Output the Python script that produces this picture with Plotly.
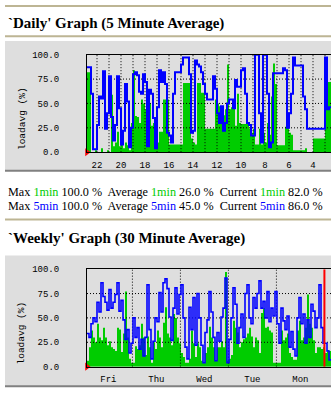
import plotly.graph_objects as go

# ---------------- data ----------------
# Daily graph, one value per 10 minutes, newest first (left -> right)
daily_1min = [82, 82, 0, 0, 2, 0, 0, 4, 0, 0, 2, 0, 59, 6, 10, 21, 6, 16, 4, 10,
              7, 2, 30, 84, 37, 36, 30, 54, 50, 44, 21, 50, 27, 30, 16, 10, 21, 21, 54, 54,
              54, 8, 8, 8, 8, 8, 8, 8, 71, 71, 71, 71, 14, 10, 8, 71, 71, 61, 61, 24,
              24, 24, 24, 24, 54, 50, 47, 40, 38, 44, 90, 44, 46, 46, 27, 60, 30, 29, 29, 29,
              30, 24, 20, 24, 8, 8, 24, 8, 20, 10, 30, 18, 57, 91, 70, 7, 7, 7, 7, 26,
              26, 20, 18, 2, 2, 2, 2, 2, 2, 4, 0, 0, 0, 14, 14, 14, 14, 14, 14, 94,
              72, 72]
daily_5min = [87, 87, 60, 3, 3, 28, 57, 55, 83, 24, 40, 78, 36, 12, 28, 78, 45, 8, 22, 70,
              52, 5, 25, 80, 82, 79, 62, 60, 80, 72, 6, 64, 60, 35, 4, 46, 84, 72, 82, 70,
              20, 17, 10, 60, 82, 82, 82, 90, 97, 97, 97, 80, 20, 22, 94, 90, 88, 82, 70, 60,
              54, 54, 54, 78, 65, 40, 30, 47, 22, 30, 50, 54, 54, 45, 74, 67, 67, 84, 86, 60,
              30, 28, 17, 17, 100, 100, 40, 10, 100, 100, 60, 5, 10, 81, 81, 81, 81, 81, 86, 84,
              25, 40, 60, 97, 89, 89, 89, 89, 57, 44, 24, 24, 24, 24, 24, 24, 24, 24, 24, 97,
              44, 46]

# Weekly graph, one value per hour, newest first (left -> right)
weekly_1min = [6, 20, 37, 30, 25, 44, 30, 27, 40, 30, 22, 26, 20, 18, 16, 40, 38, 15, 34, 77,
               30, 8, 4, 4, 21, 18, 22, 44, 30, 12, 31, 20, 4, 25, 18, 37, 30, 20, 45, 61,
               34, 30, 22, 54, 50, 30, 24, 14, 10, 4, 4, 8, 37, 24, 10, 24, 20, 6, 4, 14,
               20, 41, 30, 20, 6, 20, 20, 26, 20, 97, 6, 8, 12, 47, 40, 35, 20, 25, 28, 30,
               34, 40, 31, 20, 30, 27, 14, 55, 60, 40, 41, 37, 35, 4, 4, 4, 4, 37, 27, 30,
               34, 14, 10, 7, 7, 37, 47, 27, 30, 40, 74, 44, 40, 27, 14, 20, 20, 18, 20, 14,
               17, 16]
weekly_5min = [34, 30, 44, 50, 46, 66, 56, 86, 72, 66, 58, 79, 60, 66, 74, 86, 57, 68, 48, 28,
               38, 14, 24, 50, 30, 40, 18, 28, 11, 30, 84, 38, 8, 26, 50, 46, 76, 56, 86, 90,
               80, 51, 27, 60, 81, 54, 74, 84, 50, 20, 8, 61, 38, 71, 22, 75, 50, 22, 4, 35,
               48, 77, 56, 30, 6, 35, 26, 51, 60, 91, 4, 28, 50, 81, 64, 24, 40, 54, 30, 75,
               84, 50, 44, 71, 60, 75, 88, 60, 67, 50, 77, 46, 60, 52, 77, 44, 24, 60, 47, 38,
               52, 20, 36, 18, 11, 50, 71, 44, 54, 24, 48, 30, 64, 57, 40, 50, 84, 40, 24, 24,
               16, 7]

daily_label_hours = [22, 20, 18, 16, 14, 12, 10, 8, 6, 4]
daily_grid_hours = list(range(22, 2, -1))
weekly_day_labels = ["Fri", "Thu", "Wed", "Tue", "Mon"]
weekly_day_centers = [5.5, 4.5, 3.5, 2.5, 1.5]
weekly_day_bounds = [5, 4, 3, 2]
weekly_week_start = 1
y_tick_values = [0, 25, 50, 75, 100]
y_tick_text = ["0.0", "25.0", "50.0", "75.0", "100.0"]
grid_levels = [25, 50, 75]

stats_line_1 = [("Max", "1min", "100.0 %"), ("Average", "1min", "26.0 %"), ("Current", "1min", "82.0 %")]
stats_line_2 = [("Max", "5min", "100.0 %"), ("Average", "5min", "45.0 %"), ("Current", "5min", "86.0 %")]

DAILY_START = 22 + 50 / 60      # hour of day at the left edge
DAILY_STEP = 1 / 6              # 10 minutes
WEEKLY_START = 5.946            # days (Sun=0) at the left edge
WEEKLY_STEP = 1 / 24            # 1 hour

# ---------------- layout helpers ----------------
W, H = 331, 398
PLOT_L = 87
PLOT_W = W - PLOT_L


def fx(px):
    return px / W


def fy(py):
    return 1 - py / H


GREEN = "#00cc00"
BLUE = "#0000ff"
MONO = "Liberation Mono, DejaVu Sans Mono, monospace"
SERIF = "Liberation Serif, Times New Roman, serif"


def step_xy(values, start, step):
    xs = [start - i * step for i in range(len(values) + 1)]
    ys = list(values) + [values[-1]]
    return xs, ys


def grid_xy(vert, horiz, x0, x1):
    xs, ys = [], []
    for v in vert:
        xs += [v, v, None]
        ys += [0, 100, None]
    for h in horiz:
        xs += [x0, x1, None]
        ys += [h, h, None]
    return xs, ys


fig = go.Figure()

panels = [
    dict(xa="x", ya="y", one=daily_1min, five=daily_5min, start=DAILY_START, step=DAILY_STEP,
         per_px=1 / 12, vgrid=daily_grid_hours, bw=2),
    dict(xa="x2", ya="y2", one=weekly_1min, five=weekly_5min, start=WEEKLY_START, step=WEEKLY_STEP,
         per_px=1 / 48, vgrid=weekly_day_bounds, bw=1.6),
]

for p in panels:
    x_end = p["start"] - PLOT_W * p["per_px"]
    gx, gy = step_xy(p["one"], p["start"], p["step"])
    fig.add_trace(go.Scatter(x=gx, y=gy, mode="lines", line=dict(width=0, shape="hv", color=GREEN),
                             fill="tozeroy", fillcolor=GREEN, xaxis=p["xa"], yaxis=p["ya"],
                             hoverinfo="skip", showlegend=False))
    lx, ly = grid_xy(p["vgrid"], grid_levels, p["start"], x_end)
    fig.add_trace(go.Scatter(x=lx, y=ly, mode="lines", line=dict(width=1, color="black", dash="1px,2px"),
                             xaxis=p["xa"], yaxis=p["ya"], hoverinfo="skip", showlegend=False))
    bx, by = step_xy(p["five"], p["start"], p["step"])
    fig.add_trace(go.Scatter(x=bx, y=by, mode="lines", line=dict(width=p["bw"], shape="hv", color=BLUE),
                             xaxis=p["xa"], yaxis=p["ya"], hoverinfo="skip", showlegend=False))
    p["x_end"] = x_end

# red week-start line on weekly graph
fig.add_trace(go.Scatter(x=[weekly_week_start, weekly_week_start], y=[0, 100], mode="lines",
                         line=dict(width=2, color="#ff0000"), xaxis="x2", yaxis="y2",
                         hoverinfo="skip", showlegend=False))
# red arrows at origin
for p in panels:
    fig.add_trace(go.Scatter(x=[p["start"]], y=[0], mode="markers",
                             marker=dict(symbol="triangle-right", size=7, color="#ff0000"),
                             cliponaxis=False, xaxis=p["xa"], yaxis=p["ya"],
                             hoverinfo="skip", showlegend=False))

axis_common = dict(showgrid=False, zeroline=False, showline=True, linecolor="black", linewidth=1,
                   fixedrange=True, tickfont=dict(family=MONO, size=9, color="black"))

fig.update_layout(
    width=W, height=H, margin=dict(l=0, r=0, t=0, b=0),
    paper_bgcolor="white", plot_bgcolor="rgba(0,0,0,0)",
    xaxis=dict(domain=[fx(PLOT_L), 1], range=[DAILY_START, panels[0]["x_end"]], anchor="y",
               tickvals=daily_label_hours, ticktext=[str(h) for h in daily_label_hours],
               ticks="outside", ticklen=4, tickcolor="rgba(0,0,0,0)", mirror=True, **axis_common),
    yaxis=dict(domain=[fy(152), fy(52)], range=[0, 100], anchor="x",
               tickvals=y_tick_values, ticktext=y_tick_text,
               ticks="outside", ticklen=25, tickcolor="rgba(0,0,0,0)", **axis_common),
    xaxis2=dict(domain=[fx(PLOT_L), 1], range=[WEEKLY_START, panels[1]["x_end"]], anchor="y2",
                tickvals=weekly_day_centers, ticktext=weekly_day_labels,
                ticks="outside", ticklen=4, tickcolor="rgba(0,0,0,0)", mirror=True, **axis_common),
    yaxis2=dict(domain=[fy(372), fy(272)], range=[0, 100], anchor="x2",
                tickvals=y_tick_values, ticktext=y_tick_text,
                ticks="outside", ticklen=25, tickcolor="rgba(0,0,0,0)", **axis_common),
)

shapes = []
# gray image boxes
for top, bottom in [(38, 171), (258, 392)]:
    shapes.append(dict(type="rect", xref="paper", yref="paper", x0=fx(5), x1=1.01, y0=fy(bottom), y1=fy(top),
                       fillcolor="#dedede", line=dict(width=0), layer="below"))
    shapes.append(dict(type="line", xref="paper", yref="paper", x0=fx(5), x1=1, y0=fy(bottom), y1=fy(bottom),
                       line=dict(color="#808080", width=2), layer="below"))
# horizontal rules
for py in [2, 33, 221]:
    shapes.append(dict(type="line", xref="paper", yref="paper", x0=fx(5), x1=1, y0=fy(py), y1=fy(py),
                       line=dict(color="#bdb594", width=2), layer="below"))
fig.update_layout(shapes=shapes)


def stats_text(parts, color):
    segs = []
    for label, name, val in parts:
        segs.append(f"{label} <span style='color:{color}'>{name}</span> {val}")
    return "&nbsp; ".join(segs)


annotations = [
    dict(text="<b>`Daily' Graph (5 Minute Average)</b>", x=fx(6), y=fy(19.5), xanchor="left", yanchor="middle",
         font=dict(family=SERIF, size=15, color="black")),
    dict(text="<b>`Weekly' Graph (30 Minute Average)</b>", x=fx(6), y=fy(240.5), xanchor="left", yanchor="middle",
         font=dict(family=SERIF, size=15, color="black")),
    dict(text=stats_text(stats_line_1, GREEN), x=fx(6), y=fy(192.5), xanchor="left", yanchor="middle",
         font=dict(family=SERIF, size=12.2, color="black")),
    dict(text=stats_text(stats_line_2, BLUE), x=fx(6), y=fy(207), xanchor="left", yanchor="middle",
         font=dict(family=SERIF, size=12.2, color="black")),
    dict(text="loadavg (%)", x=fx(22), y=fy(118), textangle=-90, xanchor="center", yanchor="middle",
         font=dict(family=MONO, size=9.5, color="black")),
    dict(text="loadavg (%)", x=fx(22), y=fy(338), textangle=-90, xanchor="center", yanchor="middle",
         font=dict(family=MONO, size=9.5, color="black")),
]
for a in annotations:
    a.update(xref="paper", yref="paper", showarrow=False)
fig.update_layout(annotations=annotations)

fig.write_html("out.html")
